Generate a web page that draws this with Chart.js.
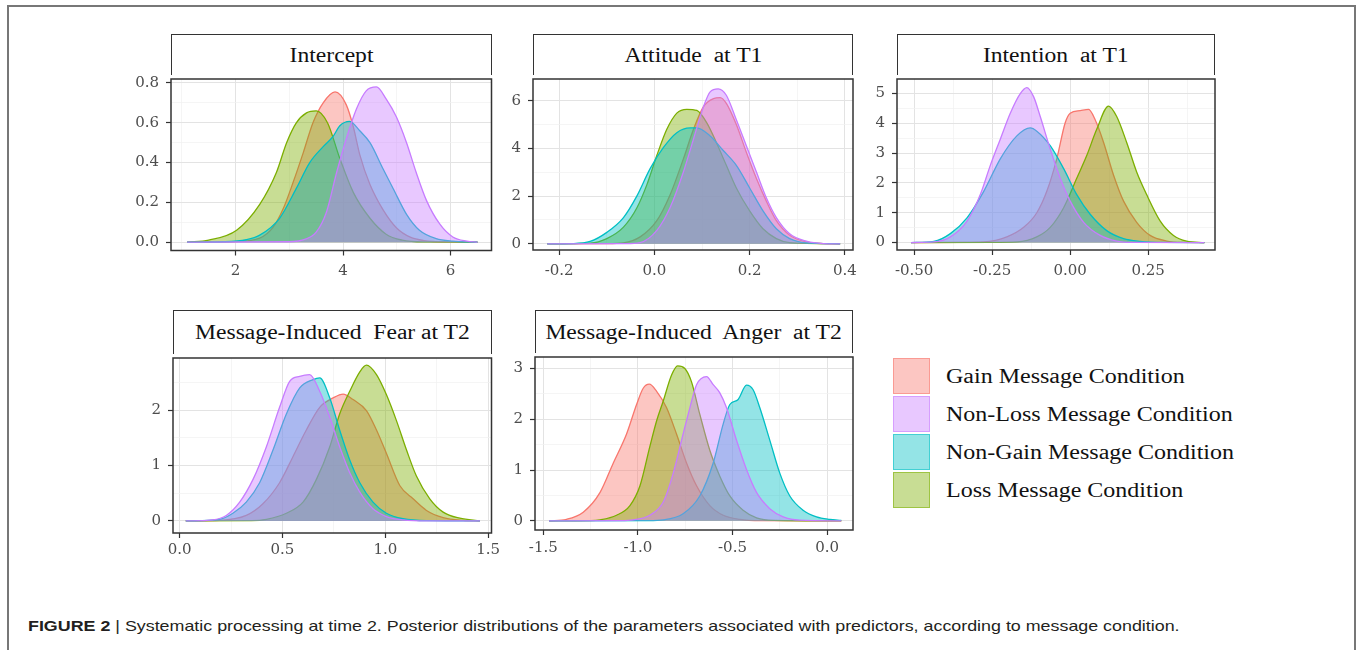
<!DOCTYPE html>
<html>
<head>
<meta charset="utf-8">
<title>Figure 2</title>
<script src="https://cdn.jsdelivr.net/npm/chart.js@4.4.1/dist/chart.umd.min.js"></script>
<style>
  body { margin: 0; background: #fff; }
  #page { position: relative; width: 1357px; height: 650px; overflow: hidden; background: #fff; }
  .frame { position: absolute; left: 7px; top: 5px; width: 1349px; height: 700px; border: 2px solid #777; border-bottom: none; box-sizing: border-box; }
  .strip { position: absolute; box-sizing: border-box; border: 1.5px solid #333; border-bottom: none; background: #fff;
           display: flex; align-items: center; justify-content: center; }
  .strip span { font-family: 'Liberation Serif', serif; font-size: 20px; white-space: pre; color: #111; transform: scaleX(1.18); }
  canvas { position: absolute; }
  .key { position: absolute; left: 893px; width: 37px; height: 36px; box-sizing: border-box; border: 1.5px solid; }
  .keytext { position: absolute; left: 946px; font-family: 'Liberation Serif', serif; font-size: 20px; color: #111;
             transform: scaleX(1.2); transform-origin: left center; white-space: pre; line-height: 36px; }
  .caption { position: absolute; left: 28px; top: 617px; font-family: 'Liberation Sans', sans-serif; font-size: 15px; color: #231f20;
             white-space: pre; transform: scaleX(1.19); transform-origin: left center; }
</style>
</head>
<body>
<div id="page">
  <div class="frame"></div>
  <div class="caption"><b>FIGURE 2</b> | Systematic processing at time 2. Posterior distributions of the parameters associated with predictors, according to message condition.</div>
</div>
<script>
'use strict';

// conditions, in legend order
const conditions = ['Gain Message Condition', 'Non-Loss Message Condition', 'Non-Gain Message Condition', 'Loss Message Condition'];
const colours = ['#F8766D', '#C77CFF', '#00BFC4', '#7CAE00'];
// stacking: Gain at the bottom, then Loss, Non-Gain, Non-Loss on top
const drawOrder = [4, 1, 2, 3];

// Intercept  [x, density]
const interceptGain = [[1.1,0],[2.0,0.003],[2.45,0.02],[2.7,0.075],[2.89,0.17],[3.07,0.30],[3.26,0.45],[3.44,0.60],[3.63,0.70],[3.85,0.755],[4.06,0.69],[4.19,0.58],[4.31,0.44],[4.5,0.29],[4.75,0.16],[5.0,0.07],[5.25,0.025],[5.5,0.008],[6.0,0.001],[6.5,0]];
const interceptNonLoss = [[1.1,0],[3.0,0.002],[3.3,0.015],[3.5,0.05],[3.69,0.15],[3.88,0.35],[4.06,0.52],[4.25,0.67],[4.43,0.76],[4.62,0.78],[4.8,0.72],[4.99,0.63],[5.18,0.50],[5.36,0.35],[5.55,0.21],[5.8,0.09],[6.04,0.026],[6.3,0.005],[6.5,0]];
const interceptNonGain = [[1.1,0],[1.8,0.002],[2.2,0.012],[2.45,0.035],[2.82,0.12],[3.13,0.27],[3.38,0.40],[3.63,0.48],[3.81,0.53],[3.94,0.585],[4.12,0.607],[4.31,0.56],[4.5,0.50],[4.74,0.37],[4.93,0.27],[5.18,0.14],[5.42,0.06],[5.73,0.018],[6.04,0.005],[6.5,0]];
const interceptLoss = [[1.1,0],[1.5,0.01],[2.02,0.06],[2.45,0.19],[2.76,0.35],[2.95,0.50],[3.13,0.60],[3.32,0.65],[3.5,0.66],[3.71,0.60],[3.94,0.42],[4.19,0.25],[4.5,0.12],[4.8,0.04],[5.1,0.01],[5.5,0.001],[6.5,0]];

// Attitude at T1
const attitudeGain = [[-0.225,0],[-0.1,0.005],[-0.065,0.04],[-0.03,0.29],[0.005,0.97],[0.033,2.06],[0.061,3.57],[0.082,4.8],[0.103,5.75],[0.124,6.09],[0.138,6.13],[0.151,5.89],[0.172,5.0],[0.193,3.84],[0.214,2.75],[0.235,1.79],[0.256,0.97],[0.284,0.36],[0.319,0.08],[0.354,0.01],[0.39,0]];
const attitudeNonLoss = [[-0.225,0],[-0.06,0.005],[-0.03,0.05],[0.005,0.56],[0.033,1.52],[0.061,3.02],[0.082,4.39],[0.103,5.75],[0.117,6.37],[0.134,6.5],[0.151,6.23],[0.172,5.2],[0.193,4.11],[0.214,3.02],[0.235,1.93],[0.256,1.1],[0.284,0.42],[0.319,0.11],[0.354,0.01],[0.39,0]];
const attitudeNonGain = [[-0.225,0],[-0.17,0.01],[-0.135,0.1],[-0.1,0.48],[-0.065,1.1],[-0.037,2.0],[-0.009,3.15],[0.019,4.04],[0.047,4.66],[0.075,4.86],[0.089,4.86],[0.117,4.52],[0.145,3.9],[0.172,3.29],[0.2,2.34],[0.228,1.38],[0.256,0.63],[0.284,0.22],[0.319,0.04],[0.39,0]];
const attitudeLoss = [[-0.225,0],[-0.135,0.03],[-0.1,0.22],[-0.065,0.7],[-0.037,1.5],[-0.016,2.47],[0.005,3.7],[0.026,4.8],[0.047,5.48],[0.068,5.64],[0.089,5.59],[0.11,5.07],[0.13,4.25],[0.151,3.29],[0.172,2.34],[0.2,1.38],[0.228,0.63],[0.256,0.22],[0.284,0.05],[0.39,0]];

// Intention at T1
const intentionGain = [[-0.51,0],[-0.35,0.005],[-0.277,0.02],[-0.203,0.19],[-0.149,0.51],[-0.107,1.0],[-0.075,1.72],[-0.043,2.81],[-0.016,4.02],[0,4.34],[0.032,4.43],[0.059,4.47],[0.08,4.12],[0.107,3.36],[0.139,2.26],[0.171,1.39],[0.213,0.68],[0.256,0.24],[0.309,0.05],[0.36,0.005],[0.43,0]];
const intentionNonLoss = [[-0.51,0],[-0.437,0.02],[-0.384,0.19],[-0.33,0.73],[-0.288,1.61],[-0.256,2.59],[-0.224,3.47],[-0.192,4.34],[-0.16,5.0],[-0.139,5.2],[-0.117,4.89],[-0.096,4.23],[-0.064,3.14],[-0.032,2.16],[0,1.39],[0.043,0.68],[0.096,0.24],[0.149,0.05],[0.2,0.005],[0.43,0]];
const intentionNonGain = [[-0.51,0],[-0.437,0.04],[-0.384,0.3],[-0.33,0.84],[-0.277,1.72],[-0.224,2.81],[-0.171,3.58],[-0.128,3.85],[-0.107,3.74],[-0.064,3.25],[-0.021,2.48],[0.021,1.61],[0.064,0.95],[0.117,0.4],[0.171,0.13],[0.224,0.04],[0.3,0.005],[0.43,0]];
const intentionLoss = [[-0.51,0],[-0.25,0.003],[-0.171,0.02],[-0.107,0.19],[-0.064,0.51],[-0.021,1.17],[0.021,2.16],[0.053,2.92],[0.085,3.8],[0.123,4.58],[0.149,4.23],[0.181,3.36],[0.213,2.37],[0.245,1.61],[0.288,0.73],[0.331,0.24],[0.373,0.05],[0.43,0]];

// Message-induced fear at T2
const fearGain = [[0.03,0],[0.195,0.01],[0.324,0.1],[0.405,0.31],[0.486,0.69],[0.551,1.16],[0.616,1.64],[0.681,2.05],[0.746,2.22],[0.795,2.29],[0.843,2.19],[0.908,1.99],[0.957,1.64],[1.005,1.22],[1.07,0.64],[1.135,0.4],[1.2,0.19],[1.281,0.06],[1.378,0.01],[1.46,0]];
const fearNonLoss = [[0.03,0],[0.16,0.02],[0.227,0.1],[0.292,0.34],[0.357,0.75],[0.422,1.34],[0.486,2.05],[0.535,2.52],[0.584,2.61],[0.632,2.64],[0.681,2.34],[0.73,1.87],[0.778,1.34],[0.827,0.87],[0.876,0.52],[0.94,0.22],[1.005,0.08],[1.086,0.02],[1.2,0],[1.46,0]];
const fearNonGain = [[0.03,0],[0.195,0.03],[0.259,0.14],[0.324,0.34],[0.389,0.69],[0.454,1.28],[0.519,1.93],[0.584,2.4],[0.649,2.55],[0.681,2.58],[0.73,2.22],[0.778,1.64],[0.827,1.1],[0.876,0.69],[0.94,0.34],[1.005,0.14],[1.086,0.04],[1.2,0.005],[1.46,0]];
const fearLoss = [[0.03,0],[0.35,0.005],[0.422,0.03],[0.519,0.14],[0.6,0.34],[0.665,0.75],[0.73,1.34],[0.778,1.93],[0.827,2.34],[0.876,2.69],[0.908,2.81],[0.957,2.64],[1.005,2.28],[1.054,1.81],[1.103,1.28],[1.151,0.81],[1.216,0.4],[1.281,0.16],[1.362,0.05],[1.46,0]];

// Message-induced anger at T2
const angerGain = [[-1.47,0],[-1.377,0.03],[-1.289,0.17],[-1.2,0.56],[-1.13,1.14],[-1.06,1.71],[-1.007,2.29],[-0.972,2.61],[-0.94,2.69],[-0.901,2.55],[-0.849,2.23],[-0.796,1.71],[-0.743,1.14],[-0.69,0.69],[-0.62,0.3],[-0.549,0.11],[-0.461,0.03],[-0.35,0.005],[0.075,0]];
const angerNonLoss = [[-1.47,0],[-1.1,0.005],[-1.025,0.02],[-0.937,0.11],[-0.866,0.37],[-0.813,0.94],[-0.761,1.71],[-0.725,2.23],[-0.69,2.68],[-0.637,2.84],[-0.602,2.68],[-0.567,2.52],[-0.532,2.23],[-0.479,1.59],[-0.426,1.01],[-0.373,0.56],[-0.303,0.24],[-0.232,0.08],[-0.144,0.015],[0.075,0]];
const angerNonGain = [[-1.47,0],[-0.95,0.005],[-0.866,0.02],[-0.761,0.14],[-0.673,0.49],[-0.602,1.14],[-0.549,1.91],[-0.514,2.29],[-0.47,2.39],[-0.426,2.67],[-0.391,2.58],[-0.356,2.23],[-0.303,1.59],[-0.25,0.94],[-0.197,0.49],[-0.127,0.21],[-0.056,0.08],[0.014,0.03],[0.075,0.01]];
const angerLoss = [[-1.47,0],[-1.25,0.005],[-1.2,0.02],[-1.113,0.11],[-1.042,0.3],[-0.989,0.69],[-0.937,1.46],[-0.901,1.97],[-0.866,2.36],[-0.822,2.87],[-0.79,3.05],[-0.752,3.0],[-0.717,2.74],[-0.673,2.1],[-0.62,1.39],[-0.567,0.88],[-0.514,0.49],[-0.444,0.21],[-0.373,0.06],[-0.28,0.01],[0.075,0]];

// tick labels
const interceptXTicks = ['2', '4', '6'];
const interceptYTicks = ['0.0', '0.2', '0.4', '0.6', '0.8'];
const attitudeXTicks = ['-0.2', '0.0', '0.2', '0.4'];
const attitudeYTicks = ['0', '2', '4', '6'];
const intentionXTicks = ['-0.50', '-0.25', '0.00', '0.25'];
const intentionYTicks = ['0', '1', '2', '3', '4', '5'];
const fearXTicks = ['0.0', '0.5', '1.0', '1.5'];
const fearYTicks = ['0', '1', '2'];
const angerXTicks = ['-1.5', '-1.0', '-0.5', '0.0'];
const angerYTicks = ['0', '1', '2', '3'];

// panel layout: plot box [left, top, right, bottom] in page pixels, strip top, x label gap
const panels = [
  { title: 'Intercept', series: [interceptGain, interceptNonLoss, interceptNonGain, interceptLoss],
    xTicks: interceptXTicks, yTicks: interceptYTicks, xRange: [0.8, 6.76], yRange: [-0.042, 0.82],
    box: [171, 75, 491.5, 250.5], stripTop: 34, xPad: 7 },
  { title: 'Attitude  at T1', series: [attitudeGain, attitudeNonLoss, attitudeNonGain, attitudeLoss],
    xTicks: attitudeXTicks, yTicks: attitudeYTicks, xRange: [-0.255, 0.417], yRange: [-0.26, 6.91],
    box: [533, 75, 853, 250], stripTop: 34, xPad: 7 },
  { title: 'Intention  at T1', series: [intentionGain, intentionNonLoss, intentionNonGain, intentionLoss],
    xTicks: intentionXTicks, yTicks: intentionYTicks, xRange: [-0.555, 0.464], yRange: [-0.25, 5.49],
    box: [897, 75, 1215, 250], stripTop: 34, xPad: 7 },
  { title: 'Message-Induced  Fear at T2', series: [fearGain, fearNonLoss, fearNonGain, fearLoss],
    xTicks: fearXTicks, yTicks: fearYTicks, xRange: [-0.032, 1.516], yRange: [-0.217, 2.94],
    box: [173, 354, 491.5, 533], stripTop: 310, xPad: 3 },
  { title: 'Message-Induced  Anger  at T2', series: [angerGain, angerNonLoss, angerNonGain, angerLoss],
    xTicks: angerXTicks, yTicks: angerYTicks, xRange: [-1.544, 0.137], yRange: [-0.18, 3.225],
    box: [535, 353, 853, 530], stripTop: 310, xPad: 4 }
];

const hexA = (hex, a) => {
  const n = parseInt(hex.slice(1), 16);
  return `rgba(${n >> 16}, ${(n >> 8) & 255}, ${n & 255}, ${a})`;
};

// majors from the labels, minors half way between
const buildTicks = (labels, range) => {
  const vals = labels.map(Number);
  const step = vals[1] - vals[0];
  const out = vals.map(v => ({ value: v, isMajor: true }));
  for (let v = vals[0] - step / 2; v <= range[1]; v += step) {
    if (v >= range[0]) out.push({ value: v, isMajor: false });
  }
  return out.sort((a, b) => a.value - b.value);
};

const labelFor = (labels, v) => {
  const hit = labels.find(l => Math.abs(Number(l) - v) < 1e-9);
  return hit === undefined ? '' : hit;
};

// dark frame round the plotting area
const panelBorder = {
  id: 'panelBorder',
  afterDraw(chart) {
    const { ctx, chartArea: a } = chart;
    ctx.save();
    ctx.strokeStyle = '#333';
    ctx.lineWidth = 1.5;
    ctx.strokeRect(a.left, a.top, a.right - a.left, a.bottom - a.top);
    ctx.restore();
  }
};

const page = document.getElementById('page');
const tickFont = { family: "'DejaVu Serif', serif", size: 15 };

const axisOptions = (labels, range, size, isX, pad) => ({
  type: 'linear',
  min: range[0],
  max: range[1],
  afterBuildTicks: axis => { axis.ticks = buildTicks(labels, range); },
  afterFit: s => { if (isX) { s.height = size; } else { s.width = size; } },
  border: { display: false },
  grid: {
    color: c => (c.tick && c.tick.isMajor ? '#E3E3E3' : '#F1F1F1'),
    lineWidth: c => (c.tick && c.tick.isMajor ? 1 : 0.7),
    tickColor: c => (c.tick && c.tick.isMajor ? '#333' : 'rgba(0,0,0,0)'),
    tickLength: 5,
    tickWidth: 1.2
  },
  ticks: {
    autoSkip: false,
    maxRotation: 0,
    padding: pad,
    color: '#4D4D4D',
    font: tickFont,
    callback: v => labelFor(labels, v)
  }
});

panels.forEach(p => {
  const [L, T, R, B] = p.box;

  // strip
  const strip = document.createElement('div');
  strip.className = 'strip';
  Object.assign(strip.style, { left: L + 'px', top: p.stripTop + 'px', width: (R - L) + 'px', height: (T - p.stripTop) + 'px' });
  const st = document.createElement('span');
  st.textContent = p.title;
  strip.appendChild(st);
  page.appendChild(strip);

  // canvas placed so the chart area lands on the plot box
  const cl = Math.floor(L - 60), ct = Math.floor(T - 12);
  const cr = Math.ceil(R + 25), cb = Math.ceil(B + 40);
  const canvas = document.createElement('canvas');
  canvas.width = cr - cl;
  canvas.height = cb - ct;
  canvas.style.left = cl + 'px';
  canvas.style.top = ct + 'px';
  page.appendChild(canvas);

  const datasets = p.series.map((s, i) => ({
    label: conditions[i],
    data: s.map(([x, y]) => ({ x, y })),
    borderColor: colours[i],
    backgroundColor: hexA(colours[i], 0.42),
    borderWidth: 1.3,
    fill: 'origin',
    pointRadius: 0,
    cubicInterpolationMode: 'monotone',
    order: drawOrder[i]
  }));

  new Chart(canvas.getContext('2d'), {
    type: 'line',
    data: { datasets },
    options: {
      responsive: false,
      animation: false,
      events: [],
      layout: { padding: { left: 0, top: T - ct, right: cr - R, bottom: 0 } },
      plugins: { legend: { display: false }, tooltip: { enabled: false }, title: { display: false } },
      scales: {
        x: axisOptions(p.xTicks, p.xRange, cb - B, true, p.xPad),
        y: axisOptions(p.yTicks, p.yRange, L - cl, false, 7)
      }
    },
    plugins: [panelBorder]
  });
});

// legend
conditions.forEach((name, i) => {
  const top = 358 + i * 38;
  const key = document.createElement('div');
  key.className = 'key';
  Object.assign(key.style, { top: top + 'px', background: hexA(colours[i], 0.42), borderColor: hexA(colours[i], 0.55) });
  page.appendChild(key);
  const txt = document.createElement('div');
  txt.className = 'keytext';
  txt.style.top = top + 'px';
  txt.textContent = name;
  page.appendChild(txt);
});
</script>
</body>
</html>
